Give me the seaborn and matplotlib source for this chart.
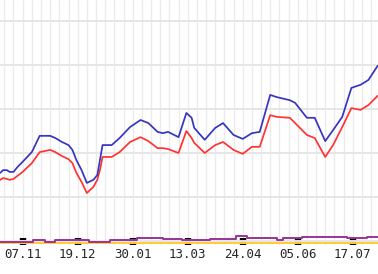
import numpy as np
import pandas as pd
import matplotlib
matplotlib.use("Agg")
import matplotlib.pyplot as plt
import seaborn as sns

# ---- data (day offsets from 07.11.2022, values) ----
start = pd.Timestamp("2022-11-07")
main_days = [-17, -15, -12, -10, -7, -4, 0, 7, 13, 21, 25, 30, 35, 38, 41, 45, 49, 54, 57,
             59, 61, 68, 74, 82, 90, 96, 103, 107, 111, 119, 125, 129, 131, 139, 147, 153,
             161, 168, 175, 181, 189, 194, 204, 208, 217, 223, 231, 237, 244, 251, 258, 264, 271]
blue_vals = [155, 161, 161, 157, 157, 168, 180, 202, 239, 239, 234, 225, 218, 207, 184, 161, 132, 139, 150,
             184, 218, 218, 234, 259, 275, 268, 248, 245, 248, 236, 291, 280, 257, 230, 257, 268,
             241, 232, 245, 248, 332, 327, 320, 314, 280, 280, 227, 252, 282, 348, 355, 366, 398]
red_vals = [139, 143, 141, 139, 141, 148, 157, 177, 202, 207, 202, 193, 186, 177, 155, 134, 109, 123, 139,
            161, 191, 191, 202, 225, 236, 227, 211, 211, 209, 200, 250, 234, 223, 200, 218, 225,
            207, 198, 214, 214, 286, 282, 280, 268, 241, 234, 191, 218, 259, 302, 298, 309, 330]

purple_days = [-17, 8, 17, 25, 51, 67, 87, 107, 122, 143, 163, 171, 194, 199, 213, 248, 263, 271]
purple_vals = [-2, 1.5, -2, 1.5, -2, 2, 6, 4.5, 2, 4.5, 11, 6, 2, 6, 9, 6, 9, 9]

yellow_days = [-17, 271]
yellow_vals = [-4.5, -4.5]

tick_labels = ["07.11", "19.12", "30.01", "13.03", "24.04", "05.06", "17.07"]

# ---- build frames ----
main = pd.DataFrame({"date": start + pd.to_timedelta(main_days, unit="D"),
                     "blue": blue_vals, "red": red_vals})
purple = pd.DataFrame({"date": start + pd.to_timedelta(purple_days, unit="D"), "v": purple_vals})
yellow = pd.DataFrame({"date": start + pd.to_timedelta(yellow_days, unit="D"), "v": yellow_vals})

sns.set_theme(style="white")
plt.rcParams["font.family"] = ["DejaVu Sans Mono", "DejaVu Sans"]

fig = plt.figure(figsize=(3.78, 2.74), dpi=100)
ax = fig.add_axes([0, 1 - 245 / 274, 1, 245 / 274])

sns.lineplot(data=yellow, x="date", y="v", ax=ax, color="#ffcc33", linewidth=1.4, zorder=1.2)
sns.lineplot(data=purple, x="date", y="v", ax=ax, color="#993399", linewidth=1.4,
             drawstyle="steps-post", zorder=1.3)
sns.lineplot(data=main, x="date", y="red", ax=ax, color="#ff3333", linewidth=1.25)
sns.lineplot(data=main, x="date", y="blue", ax=ax, color="#3535c0", linewidth=1.25)

ax.set_xlim(start + pd.Timedelta(days=-17.3), start + pd.Timedelta(days=271.3))
ax.set_ylim(-9.1, 547.7)

major = [start + pd.Timedelta(days=42 * i) for i in range(len(tick_labels))]
ax.set_xticks(major)
ax.set_xticklabels(tick_labels)
weekly = [start + pd.Timedelta(days=7 * i) for i in range(-2, 39)]
ax.set_xticks(weekly, minor=True)
ax.set_yticks([0, 100, 200, 300, 400, 500])
ax.set_yticklabels([])

ax.grid(True, which="both", axis="x", color="#ebebeb", linewidth=1.0)
ax.grid(True, which="major", axis="y", color="#e6e6e6", linewidth=1.4)
ax.tick_params(axis="x", which="major", bottom=True, direction="in", length=5, width=4.6,
               color="black", labelsize=9, pad=1.8)
ax.tick_params(axis="x", which="minor", bottom=False, length=0)
ax.tick_params(axis="y", left=False, length=0)
ax.set_xlabel("")
ax.set_ylabel("")
for s in ax.spines.values():
    s.set_visible(False)

fig.savefig("out.png", dpi=100)
